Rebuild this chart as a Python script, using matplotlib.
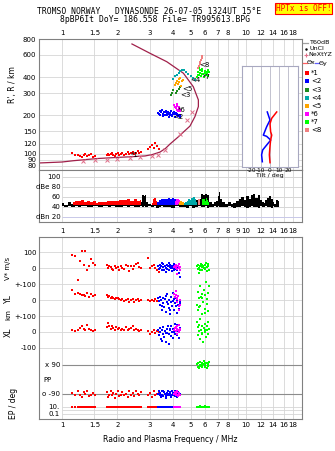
import matplotlib
matplotlib.use("Agg")
import matplotlib.pyplot as plt
import numpy as np
from matplotlib.lines import Line2D
from matplotlib.ticker import NullLocator

plt.rcParams['font.family'] = ['DejaVu Sans']

# ---------------- data ----------------
top_ticks = [1, 1.5, 2, 3, 4, 5, 6, 7, 8, 10, 12, 14, 16, 18]
mid_ticks = [1, 1.5, 2, 3, 4, 5, 6, 7, 8, 9, 10, 12, 14, 16, 18]
grid_freqs = [1, 1.5, 2, 3, 4, 5, 6, 7, 8, 9, 10, 12, 14, 16, 18]
height_ticks = [80, 90, 100, 120, 150, 200, 300, 400, 600, 800]

prof_f = [0.75, 1.0, 1.15, 1.54, 2.0, 2.34, 2.83, 3.1, 3.41, 3.65, 3.86, 4.27, 4.57, 4.96, 5.28, 5.51, 5.51, 5.17, 4.57, 3.71, 3.01, 2.40]
prof_h = [84.5, 86, 88, 91.5, 93.5, 94.5, 96, 98.5, 103, 110, 119, 135, 148, 165, 196, 235, 265, 337, 430, 530, 617, 731]

nxt_f = [1.30, 1.51, 1.76, 1.99, 2.34, 2.65, 3.09, 3.33, 3.65, 4.38, 4.76, 5.06]
nxt_h = [88, 89, 90, 91, 92.5, 94, 95.5, 98.5, 106, 144, 184, 214]

red_f = [1.13, 1.18, 1.22, 1.26, 1.28, 1.31, 1.34, 1.37, 1.40, 1.44, 1.47, 1.52,
         1.76, 1.78, 1.81, 1.84, 1.87, 1.90, 1.94, 1.97, 2.01, 2.05,
         2.09, 2.13, 2.18, 2.22, 2.27, 2.32, 2.37, 2.42, 2.47, 2.52,
         2.58, 2.63, 2.68,
         2.95, 3.02, 3.08, 3.15, 3.22, 3.30, 3.38]
red_h = [101, 97, 98, 96, 95, 97, 100, 96, 97, 99, 95, 96,
         98, 100, 97, 99, 101, 98, 96, 100, 102, 98,
         99, 101, 97, 100, 103, 99, 101, 104, 100, 102,
         105, 101, 103,
         108, 112, 118, 110, 122, 116, 108]
red_v = [80, 73, -75, 45, 104, 20, 104, -10, 15, 55, 30, 20,
         20, 0, 10, 5, -5, -15, 10, 0, 5, -10,
         15, 0, -5, 20, 10, -20, 10, -5, 15, 25,
         30, 5, 0,
         60, 0, 10, 20, 0, -10, -25]
red_yl = [65, 40, 45, 40, 30, 30, 25, 45, 20, 35, 25, 30,
          30, 20, 25, 10, 20, 15, 5, 10, 15, 5,
          0, 5, -5, 0, 5, -10, 0, 5, -15, 0,
          5, -5, 0,
          0, -5, 0, -5, 5, -5, -5]
red_xl = [10, 5, 15, 25, 35, 20, 10, 45, 20, 10, 5, 15,
          30, 55, 40, 20, 35, 25, 15, 30, 20, 25,
          10, 20, 15, 30, 10, 20, 25, 40, 15, 20,
          10, 5, 15,
          5, -15, 0, 10, -5, 5, 0]
red_pp = [-85, -100, -75, -95, -110, -80, -90, -70, -105, -95, -85, -100,
          -80, -110, -95, -70, -100, -85, -115, -90, -75, -105,
          -95, -80, -100, -90, -110, -75, -95, -85, -105, -70,
          -90, -100, -80,
          -95, -85, -110, -75, -100, -90, -80]
red_ep = [10, 11, 9, 10, 12, 10, 9, 11, 10, 10, 9, 11,
          10, 11, 10, 9, 10, 12, 10, 11, 9, 10,
          10, 11, 10, 9, 10, 12, 10, 11, 10, 9,
          10, 11, 10,
          10, 11, 9, 10, 12, 10, 9]

blue_f = [3.32, 3.36, 3.40, 3.43, 3.46, 3.50, 3.53, 3.56, 3.60, 3.63,
          3.66, 3.70, 3.73, 3.76, 3.80, 3.83, 3.86, 3.90, 3.93, 3.96,
          4.00, 4.03, 4.06, 4.10, 4.13, 4.17, 4.20, 4.24, 4.28, 4.32,
          4.36, 4.40, 3.48, 3.68, 3.88, 4.08]
blue_h = [210, 205, 215, 200, 212, 220, 207, 198, 214, 203,
          218, 209, 200, 213, 206, 195, 211, 202, 216, 199,
          208, 204, 212, 196, 205, 210, 200, 207, 198, 202,
          195, 200, 222, 214, 201, 206]
blue_v = [10, -5, 20, 0, 15, -10, 25, 5, -15, 10,
          0, 20, -5, 10, 30, -10, 5, 0, 15, -20,
          10, 0, 25, -5, 10, 20, -10, 0, 15, -30,
          -55, 5, 30, -25, 20, -15]
blue_yl = [10, -5, 20, -30, 0, -60, 15, -20, -45, 5,
           -75, -10, 35, -25, -50, 0, -90, -15, 20, -35,
           -5, 45, -60, -20, 10, -40, -80, 0, -30, -55,
           -10, -20, -40, 25, -65, 5]
blue_xl = [10, -20, 25, 0, -45, 15, -10, 30, -30, 5,
           -60, 20, -5, 35, -15, -75, 10, 40, -25, 0,
           20, -40, 15, 50, -10, 30, -20, 45, 5, -35,
           10, 25, -55, -5, 20, 0]
blue_pp = [-90, -75, -100, -85, -110, -95, -70, -105, -80, -90,
           -115, -85, -95, -75, -100, -90, -80, -110, -95, -70,
           -85, -100, -90, -105, -75, -95, -85, -110, -80, -100,
           -90, -95, -75, -105, -85, -100]
blue_ep = [10, 9, 11, 10, 10, 12, 9, 10, 11, 10,
           9, 10, 11, 10, 12, 10, 9, 11, 10, 10,
           11, 10, 9, 10, 12, 10, 11, 9, 10, 10,
           11, 10, 9, 12, 10, 11]

mag_f = [4.05, 4.10, 4.14, 4.18, 4.21, 4.24, 4.27, 4.30, 4.33, 4.36, 4.40, 4.22]
mag_h = [240, 235, 230, 228, 222, 245, 218, 232, 226, 220, 215, 238]
mag_v = [5, 10, 0, 20, 15, -5, 10, 25, 0, -10, 5, -35]
mag_yl = [40, 20, 30, 55, 10, -10, 25, -40, -60, -30, 0, 5]
mag_xl = [10, 25, 30, 5, 20, -10, 15, 45, 0, 20, 10, 35]
mag_pp = [-90, -80, -100, -85, -95, -75, -105, -90, -85, -100, -95, -80]
mag_ep = [10, 11, 12, 10, 13, 11, 10, 12, 11, 10, 9, 12]

green_f = [5.40, 5.45, 5.50, 5.55, 5.60, 5.65, 5.70, 5.75, 5.80, 5.85, 5.90,
           5.95, 6.00, 6.05, 6.10, 6.15, 6.20, 6.25, 6.30, 5.52, 5.78, 6.02]
green_h = [405, 420, 440, 415, 455, 430, 410, 445, 465, 425, 400,
           435, 450, 418, 442, 428, 460, 412, 438, 470, 422, 448]
green_v = [10, -5, 20, 0, 15, -10, 25, 5, -15, 10, 0,
           20, -5, 30, 5, -20, 15, 25, -10, -30, 20, 0]
green_yl = [-30, 50, -60, 10, 85, -40, 20, -90, 40, -10, 65,
            -55, 30, 110, -25, 5, -70, 45, 90, -45, 15, -80]
green_xl = [60, -20, 30, 5, -45, 80, 15, -10, 40, -65, 25,
            0, 50, -30, 10, 35, -15, 65, 20, 45, -5, 10]
green_pp = [95, 80, 105, 70, 90, 110, 85, 100, 75, 95, 115,
            80, 90, 105, 70, 100, 85, 95, 110, 75, 90, 100]
green_ep = [12, 13, 14, 12, 13, 15, 12, 14, 13, 12, 14,
            13, 15, 12, 13, 14, 12, 13, 14, 12, 13, 15]

dg_f = [3.93, 3.97, 4.02, 4.15, 4.22, 4.30, 4.38, 4.45]
dg_h = [290, 300, 315, 300, 310, 322, 335, 340]
org_f = [4.10, 4.15, 4.20, 4.25, 4.30, 4.35, 4.40, 4.45, 4.50, 4.55]
org_h = [345, 360, 375, 352, 385, 368, 395, 340, 372, 380]
teal_f = [4.00, 4.10, 4.20, 4.30, 4.40, 4.50, 4.60, 4.70, 4.85, 5.00, 5.15, 5.30]
teal_h = [390, 410, 420, 435, 450, 460, 455, 440, 425, 410, 395, 380]
sal_f = [5.50, 5.55, 5.60, 5.65, 5.70, 5.75, 5.80]
sal_h = [470, 490, 505, 525, 545, 565, 585]

tilt_blue = [-3, 0, -3.7, -7.4, -3.7, 0.8, -3.7, -8.1, -9.3, -8.5]
tilt_blue_h = [213, 184, 163, 140, 137, 128, 117, 107, 98, 86.5]
tilt_red = [7.4, 1.9, 0, 0.7, 1.9, 0.7, 0, -0.7, 0]
tilt_red_h = [213, 190, 172, 149, 140, 128, 115, 98, 85]

noise_f = [1.00, 1.05, 1.10, 1.15, 1.20, 1.25, 1.30, 1.35, 1.40, 1.45, 1.50, 1.55, 1.60, 1.65, 1.70, 1.75, 1.80,
           1.90, 2.00, 2.10, 2.20, 2.30, 2.40, 2.50, 2.60, 2.70,
           2.75, 2.80, 2.85,
           2.90, 3.00, 3.10, 3.20, 3.30, 3.40, 3.50, 3.60,
           3.80, 4.00, 4.20, 4.40, 4.60, 4.80, 5.00, 5.20, 5.40, 5.60,
           5.80, 5.90, 6.00,
           6.20, 6.40, 6.60, 6.80, 7.00,
           7.10, 7.20, 7.30,
           7.50,
           7.8, 8.1, 8.4, 8.7, 9.0, 9.3, 9.6, 9.9, 10.2, 10.5, 10.8, 11.1, 11.4, 11.7, 12.0,
           12.3, 12.6, 12.9, 13.2, 13.5, 13.8, 14.1, 14.4, 14.7, 15.0,
           15.2]
noise_hi = [47, 44, 49, 45, 50, 44, 48, 46, 49, 44, 47, 46, 43, 48, 45, 49, 46,
            47, 50, 45, 49, 46, 51, 48, 52, 49,
            64, 63, 65,
            50, 46, 44, 47, 49, 46, 51, 48,
            52, 50, 48, 49, 45, 47, 50, 48, 53, 55,
            66, 64, 66,
            65, 50, 46, 49, 52,
            62, 70, 55,
            50,
            46, 50, 45, 48, 52, 57, 60, 54, 62, 56, 64, 67, 59, 64, 54,
            50, 47, 53, 58, 62, 56, 49, 46, 54, 51,
            46]
noise_lo = [41, 40, 42, 39, 41, 40, 42, 41, 39, 40, 42, 41, 40, 39, 41, 42, 40,
            41, 39, 40, 42, 40, 41, 39, 40, 41,
            40, 41, 40,
            39, 41, 40, 42, 38, 40, 41, 39,
            40, 38, 41, 39, 40, 37, 41, 38, 40, 41,
            39, 40, 41,
            38, 40, 39, 41, 40,
            41, 39, 40,
            40,
            39, 41, 40, 38, 40, 39, 41, 40, 38, 40, 41, 39, 40, 38, 41,
            40, 39, 41, 40, 39, 38, 41, 40, 39, 40,
            41]

amp_red_f = [1.15, 1.2, 1.25, 1.3, 1.35, 1.4, 1.45, 1.5, 1.55, 1.6, 1.7, 1.8, 1.9, 2.0, 2.1,
             2.2, 2.3, 2.4, 2.5, 2.6, 2.7, 2.8, 3.0, 3.1, 3.15, 3.2, 3.25, 3.3]
amp_red = [50, 52, 51, 53, 50, 52, 49, 51, 48, 50, 49, 51, 52, 51, 53,
           54, 55, 52, 56, 51, 54, 40, 40, 47, 55, 58, 52, 49]
amp_blue_f = [3.3, 3.4, 3.5, 3.6, 3.7, 3.8, 3.9, 4.0, 4.1, 4.2]
amp_blue = [50, 54, 56, 55, 57, 58, 56, 59, 57, 55]
amp_mag_f = [4.1, 4.2, 4.3, 4.4]
amp_mag = [52, 56, 57, 54]
amp_dg_f = [4.25, 4.35, 4.45]
amp_dg = [46, 47, 45]
amp_org_f = [4.35, 4.45, 4.55, 4.65]
amp_org = [50, 52, 49, 47]
amp_teal_f = [4.6, 4.7, 4.8, 4.9, 5.0, 5.1, 5.2, 5.3, 5.4]
amp_teal = [47, 49, 52, 55, 54, 58, 60, 56, 50]
amp_sal_f = [5.45, 5.55, 5.65]
amp_sal = [52, 55, 53]
amp_green_f = [5.8, 5.9, 6.0, 6.1, 6.2, 6.3]
amp_green = [55, 57, 52, 58, 54, 50]

echo_labels = ['*1', '<2', '<3', '<4', '<5', '*6', '*7', '<8']
echo_colors = ['#ff0000', '#0000ff', '#1e8c1e', '#00a8a8', '#ffa500', '#ff00ff', '#00ff00', '#f08080']

# ---------------- layout ----------------
W, H = 335, 451
fig = plt.figure(figsize=(W / 100, H / 100), dpi=100)
fig.patch.set_facecolor('white')


def rect(x0, y0, x1, y1):
    return [x0 / W, 1 - y1 / H, (x1 - x0) / W, (y1 - y0) / H]


def fx(x):
    return x / W


def fy(y):
    return 1 - y / H


FRAME = '#808080'
GRID = '#d6d6d6'
XLIM = (0.75, 20.15)
FS = 5


def style(ax):
    ax.set_xscale('log')
    ax.set_xlim(*XLIM)
    for s in ax.spines.values():
        s.set_color(FRAME)
        s.set_linewidth(0.8)
    ax.xaxis.set_minor_locator(NullLocator())
    ax.tick_params(axis='both', which='both', length=0, labelsize=FS, pad=2)
    for f in grid_freqs:
        ax.axvline(f, color=GRID, lw=0.6, zorder=0)
    ax.set_xticks(top_ticks)
    ax.set_xticklabels([('%g' % t) for t in top_ticks])


# ---- top panel ----
ax1 = fig.add_axes(rect(39, 39, 302, 170))
style(ax1)
ax1.set_yscale('log')
ax1.set_ylim(74.4, 800)
ax1.yaxis.set_minor_locator(NullLocator())
ax1.set_yticks(height_ticks)
ax1.set_yticklabels([str(h) for h in height_ticks])
for h in height_ticks:
    ax1.axhline(h, color=GRID, lw=0.6, zorder=0)
ax1.xaxis.tick_top()
ax1.tick_params(axis='x', pad=2.5)

ax1.plot(prof_f, prof_h, color='#a0204a', lw=0.9, zorder=2)
ax1.plot(nxt_f, nxt_h, ls='none', marker='x', ms=2.2, mew=0.7, color='#e0708a', zorder=3)
ms_top = 4.5
ax1.scatter(red_f, red_h, s=ms_top, marker='s', lw=0, color=echo_colors[0], zorder=4)
ax1.scatter(blue_f, blue_h, s=ms_top, marker='s', lw=0, color=echo_colors[1], zorder=4)
ax1.scatter(dg_f, dg_h, s=ms_top, marker='s', lw=0, color=echo_colors[2], zorder=4)
ax1.scatter(teal_f, teal_h, s=ms_top, marker='s', lw=0, color=echo_colors[3], zorder=4)
ax1.scatter(org_f, org_h, s=ms_top, marker='s', lw=0, color=echo_colors[4], zorder=4)
ax1.scatter(mag_f, mag_h, s=ms_top, marker='s', lw=0, color=echo_colors[5], zorder=4)
ax1.scatter(green_f, green_h, s=ms_top, marker='s', lw=0, color=echo_colors[6], zorder=4)
ax1.scatter(sal_f, sal_h, s=ms_top, marker='s', lw=0, color=echo_colors[7], zorder=4)

lab_pos = [(2.37, 97), (4.0, 193), (4.4, 290), (5.0, 380), (4.5, 326), (4.27, 220), (5.8, 400), (5.6, 495)]
for (lf, lh), lab in zip(lab_pos, echo_labels):
    ax1.text(lf, lh, lab, fontsize=FS, ha='left', va='center', color='black', zorder=6)

# ---- tilt inset ----
axi = fig.add_axes(rect(242, 66, 298, 167))
axi.set_facecolor('white')
axi.set_zorder(5)
axi.set_xlim(-31, 31)
axi.set_yscale('log')
axi.set_ylim(78.6, 490)
axi.yaxis.set_minor_locator(NullLocator())
axi.set_yticks([])
for s in axi.spines.values():
    s.set_color('#a8a8c0')
    s.set_linewidth(0.8)
for t in [-20, -10, 0, 10, 20]:
    axi.axvline(t, color='#b8b8c8', lw=0.6, zorder=0)
axi.set_xticks([-20, -10, 0, 10, 20])
axi.set_xticklabels(['-20', '-10', '0', '10', '20'])
axi.tick_params(axis='x', length=0, labelsize=4.2, pad=1)
axi.set_xlabel('Tilt / deg', fontsize=4.5, labelpad=0)
axi.plot(tilt_blue, tilt_blue_h, color='#0000ff', lw=1.1)
axi.plot(tilt_red, tilt_red_h, color='#ff0000', lw=1.1)

# ---- noise panel ----
ax2 = fig.add_axes(rect(39, 170, 302, 222))
style(ax2)
ax2.set_ylim(10, 114)
ax2.set_yticks([])
ax2.set_xticks(mid_ticks)
ax2.set_xticklabels([('%g' % t) for t in mid_ticks])
ax2.tick_params(axis='x', pad=4)
lev = [100, 80, 60, 40, 20]
levlab = ['100', 'dBe 80', '60', '40', 'dBn 20']
for lv, lb in zip(lev, levlab):
    ax2.hlines(lv, 1.0, XLIM[1], color=('#c8c8e8' if lv == 20 else GRID), lw=0.7, zorder=0)
    ax2.text(0.985, lv, lb, fontsize=FS, ha='right', va='center')
ax2.fill_between(noise_f, noise_lo, noise_hi, step='mid', color='black', lw=0, zorder=2)
amps = [(amp_red_f, amp_red, 0), (amp_blue_f, amp_blue, 1), (amp_mag_f, amp_mag, 5),
        (amp_dg_f, amp_dg, 2), (amp_org_f, amp_org, 4), (amp_teal_f, amp_teal, 3),
        (amp_sal_f, amp_sal, 7), (amp_green_f, amp_green, 6)]
for af, aa, ci in amps:
    aa = np.array(aa, float)
    ax2.fill_between(af, 43, aa, where=aa > 43, step='mid', color=echo_colors[ci], lw=0, zorder=3)

# ---- doppler / location / polarization panel ----
ax3 = fig.add_axes(rect(39, 237, 302, 419))
style(ax3)
ax3.set_ylim(-544, 594)
ytk = [500, 400, 300, 200, 100, 0, -100]
ax3.set_yticks(ytk)
ax3.set_yticklabels(['100', '0', '+-100', '0', '+-100', '0', '-100'])
for v in ytk:
    ax3.axhline(v, color=GRID, lw=0.6, zorder=0)
ax3.hlines([-206, -387], 1.0, XLIM[1], color='#8c8c8c', lw=0.8, zorder=1)
ax3.hlines([-469, -490, -512], 1.0, XLIM[1], color=GRID, lw=0.6, zorder=0)
for yv, lb in [(-206, 'x 90'), (-387, 'o -90'), (-469, '10.'), (-512, '0.1')]:
    ax3.text(0.975, yv, lb, fontsize=FS, ha='right', va='center')

V0, YL0, XL0, PX0, PO0, EP0 = 400, 200, 0, -206, -387, -469


def put(f, v, yl, xl, pp, ep, color, xmode=False):
    f = np.array(f)
    ax3.scatter(f, V0 + np.array(v), s=3.5, marker='s', lw=0, color=color, zorder=3)
    ax3.scatter(f, YL0 + np.array(yl), s=3.5, marker='s', lw=0, color=color, zorder=3)
    ax3.scatter(f, XL0 + np.array(xl), s=3.5, marker='s', lw=0, color=color, zorder=3)
    if xmode:
        ppy = PX0 + (np.array(pp) - 90)
    else:
        ppy = PO0 + (np.array(pp) + 90)
    ax3.scatter(f, ppy, s=3.5, marker='s', lw=0, color=color, zorder=3)
    epy = EP0 + 21.5 * np.log10(np.array(ep) / 10.0)
    ax3.scatter(f, epy, s=3.5, marker='s', lw=0, color=color, zorder=3)


put(red_f, red_v, red_yl, red_xl, red_pp, red_ep, echo_colors[0])
put(blue_f, blue_v, blue_yl, blue_xl, blue_pp, blue_ep, echo_colors[1])
put(mag_f, mag_v, mag_yl, mag_xl, mag_pp, mag_ep, echo_colors[5])
put(green_f, green_v, green_yl, green_xl, green_pp, green_ep, echo_colors[6], xmode=True)

ax3.tick_params(axis='x', pad=2.5)

# ---- axis labels ----
fig.text(fx(13), fy(85), "R', R / km", rotation=90, fontsize=FS + 0.5, ha='center', va='center')
fig.text(fx(8), fy(268), "V* m/s", rotation=90, fontsize=FS, ha='center', va='center')
fig.text(fx(8), fy(299), "YL", rotation=90, fontsize=FS + 0.5, ha='center', va='center')
fig.text(fx(8), fy(315), "km", rotation=90, fontsize=FS, ha='center', va='center')
fig.text(fx(8), fy(332), "XL", rotation=90, fontsize=FS + 0.5, ha='center', va='center')
fig.text(fx(13), fy(403), "EP / deg", rotation=90, fontsize=FS + 0.5, ha='center', va='center')
fig.text(fx(43), fy(380), "PP", fontsize=FS, ha='left', va='center')
fig.text(fx(170), fy(439), "Radio and Plasma Frequency / MHz", fontsize=FS + 0.5, ha='center', va='center')

# ---- titles ----
fig.text(fx(149), fy(12), "TROMSO NORWAY   DYNASONDE 26-07-05 1324UT 15°E",
         family='DejaVu Sans Mono', fontsize=5.8, ha='center', va='center')
fig.text(fx(155), fy(20), "8pBP6It DoY= 186.558 File= TR995613.BPG",
         family='DejaVu Sans Mono', fontsize=5.8, ha='center', va='center')
fig.text(fx(303.5), fy(8.5), "HPTx is OFF!", family='DejaVu Sans Mono', fontsize=5.6,
         color='#ff0000', ha='center', va='center',
         bbox=dict(boxstyle='square,pad=0.15', facecolor='#ffff00', edgecolor='#ff0000', lw=0.8))

# ---- legend (right) ----
LFS = 4.6


def lline(x0, x1, y, color, lw=0.9):
    fig.add_artist(Line2D([fx(x0), fx(x1)], [fy(y), fy(y)], color=color, lw=lw, transform=fig.transFigure))


lline(303, 308, 43, '#a0a0a0')
fig.text(fx(309), fy(43), 'T60dB', fontsize=LFS, va='center', ha='left')
fig.add_artist(Line2D([fx(306)], [fy(49)], marker='.', ms=1.5, color='black', ls='none', transform=fig.transFigure))
fig.text(fx(309), fy(49), 'UnCl', fontsize=LFS, va='center', ha='left')
fig.add_artist(Line2D([fx(305.5)], [fy(55)], marker='+', ms=3.5, mew=0.8, color='#e0708a', ls='none', transform=fig.transFigure))
fig.text(fx(308.5), fy(55), 'NeXtYZ', fontsize=LFS, va='center', ha='left')
lline(303, 307, 63, '#ff6060')
fig.text(fx(307), fy(63), 'Θx', fontsize=LFS, va='center', ha='left')
lline(315, 319, 63, '#6060ff')
fig.text(fx(319), fy(63), 'Θy', fontsize=LFS, va='center', ha='left')
leg_y = [73, 81, 90, 98, 106, 114, 122, 130]
for yy, lab, col in zip(leg_y, echo_labels, echo_colors):
    fig.add_artist(Line2D([fx(307)], [fy(yy)], marker='s', ms=2.6, mew=0, color=col, ls='none', transform=fig.transFigure))
    fig.text(fx(311), fy(yy), lab, fontsize=5, va='center', ha='left')

fig.savefig('out.png', dpi=100, facecolor='white')
